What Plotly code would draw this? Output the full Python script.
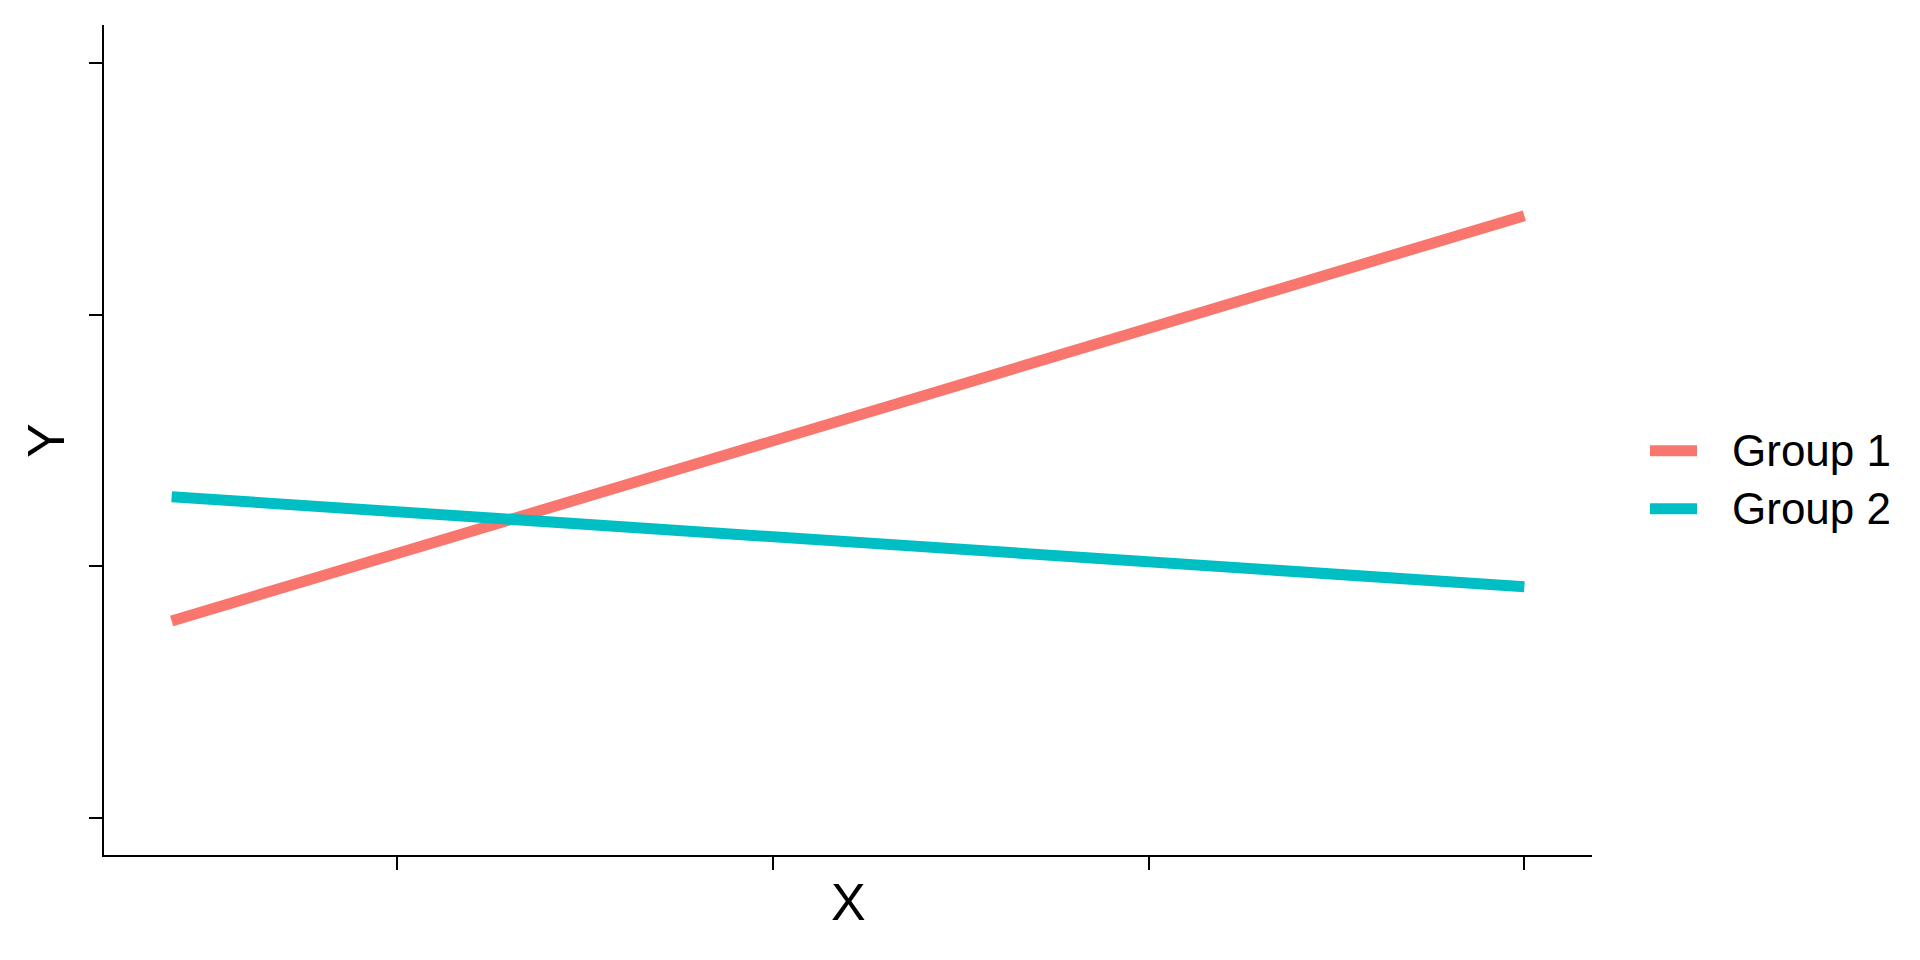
import plotly.graph_objects as go

# Data (axes have no tick labels)
groups = ["Group 1", "Group 2"]
x_vals = [-0.6, 3.0]
y_group1 = [0.783, 2.394]
y_group2 = [1.277, 0.919]
colors = ["#F8766D", "#00BFC4"]
x_ticks = [0, 1, 2, 3]
y_ticks = [0, 1, 2, 3]

W, H = 1920, 960
# page body has an 8px margin, so figure coords = screen coords - 8
L, T = 96, 17
PR, PB = 1584, 847          # plot right / bottom in figure coords
R, B = W - PR, H - PB
PW, PH = PR - L, PB - T

def px_to_paper_x(px):
    return (px - L) / PW

def px_to_paper_y(py):
    return (PB - py) / PH

fig = go.Figure()
for name, ys, c in zip(groups, [y_group1, y_group2], colors):
    fig.add_trace(go.Scatter(x=x_vals, y=ys, mode="lines", name=name,
                             line=dict(color=c, width=11), showlegend=False))

axis_common = dict(showgrid=False, zeroline=False, showline=True, linecolor="black",
                   linewidth=2, ticks="outside", ticklen=13, tickwidth=2,
                   tickcolor="black", showticklabels=False)

# custom legend (line sample + label), to match the reference's key layout
shapes = []
annotations = []
legend_rows_y = [442.7, 500.7]
for name, c, ly in zip(groups, colors, legend_rows_y):
    shapes.append(dict(type="line", xref="paper", yref="paper",
                       x0=px_to_paper_x(1642), x1=px_to_paper_x(1689),
                       y0=px_to_paper_y(ly), y1=px_to_paper_y(ly),
                       line=dict(color=c, width=11)))
    annotations.append(dict(text=name, xref="paper", yref="paper",
                            x=px_to_paper_x(1722), y=px_to_paper_y(ly),
                            xanchor="left", yanchor="middle", showarrow=False,
                            font=dict(size=44)))

annotations += [
    dict(text="X", xref="paper", yref="paper", x=px_to_paper_x(840), y=px_to_paper_y(894),
         xanchor="center", yanchor="middle", showarrow=False, font=dict(size=52)),
    dict(text="Y", xref="paper", yref="paper", x=px_to_paper_x(38), y=px_to_paper_y(433),
         xanchor="center", yanchor="middle", showarrow=False, textangle=-90,
         font=dict(size=52)),
]

fig.update_layout(
    width=W, height=H,
    margin=dict(l=L, r=R, t=T, b=B),
    paper_bgcolor="white", plot_bgcolor="white",
    font=dict(family="Liberation Sans, Arial, sans-serif", color="black"),
    xaxis=dict(range=[-0.78, 3.18], tickvals=x_ticks, **axis_common),
    yaxis=dict(range=[-0.147, 3.152], tickvals=y_ticks, **axis_common),
    showlegend=False,
    shapes=shapes,
    annotations=annotations,
)

fig.write_html("out.html")
